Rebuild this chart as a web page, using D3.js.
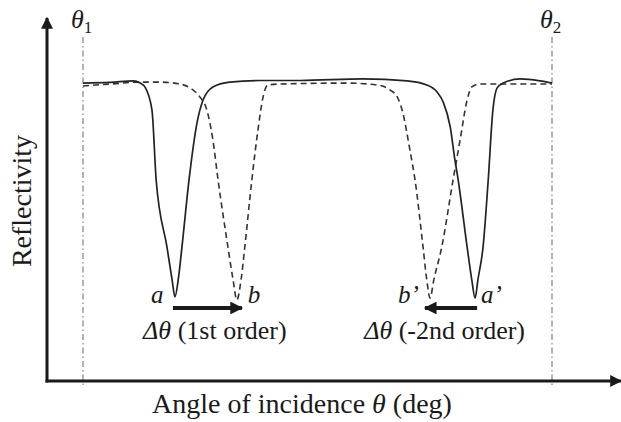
<!DOCTYPE html>
<html>
<head>
<meta charset="utf-8">
<script src="https://cdn.jsdelivr.net/npm/d3@7"></script>
<style>
  body { margin: 0; background: #fff; }
  text { font-family: "Liberation Serif", "DejaVu Serif", serif; fill: #1a1a1a; }
</style>
</head>
<body>
<script>
// angle is in arbitrary units between theta1 (0) and theta2 (100)
const solidAngle = [0, 5.8, 10.7, 12.2, 13.2, 14.7, 15.6, 17.9, 19.0, 19.6, 20.3, 21.1, 22.6, 24.3, 25.6, 27.7, 31.3, 37.7, 46.3, 59.7, 69.1, 73.3, 75.5, 76.8, 78.3, 79.3, 80.0, 81.9, 82.9, 83.6, 84.2, 85.3, 86.4, 87.4, 88.3, 89.6, 93.2, 97.4, 100]
const solidR = [.931, .933, .938, .931, .919, .847, .628, .419, .316, .263, .316, .419, .628, .806, .878, .919, .934, .939, .939, .944, .938, .925, .903, .872, .794, .691, .628, .419, .316, .259, .316, .419, .628, .847, .916, .931, .944, .938, .931]
const dashAngle = [0, 5.8, 12.2, 16.4, 20.7, 23.5, 24.9, 26.4, 27.7, 28.8, 30.9, 32.0, 32.8, 33.7, 34.5, 36.0, 37.3, 38.4, 39.4, 42.0, 56.3, 62.7, 65.5, 67.0, 68.2, 69.7, 70.8, 72.5, 73.3, 74.0, 74.8, 76.5, 78.9, 80.4, 81.9, 82.9, 84.6, 91.7, 100]
const dashR = [.922, .928, .934, .934, .928, .909, .888, .847, .753, .628, .419, .316, .253, .316, .419, .628, .784, .888, .925, .928, .931, .925, .909, .888, .838, .722, .628, .419, .316, .259, .316, .419, .628, .753, .878, .919, .928, .928, .928]
const thetaBounds = [0, 100]
const thetaNames = ["1", "2"]
const dipNames = ["a", "b", "b\u2019", "a\u2019"]
const dipAngle = [19.6, 32.8, 74.0, 83.6]
const shiftNames = ["(1st order)", "(-2nd order)"]

const w = 621
const h = 422
const svg = d3.select("body").append("svg").attr("width", w).attr("height", h)

const xScale = d3.scaleLinear().domain(thetaBounds).range([83, 552])
const yScale = d3.scaleLinear().domain([0, 1]).range([381, 61])
const axisX0 = 47
const axisY0 = 381

const defs = svg.append("defs")
defs.append("marker").attr("id", "head").attr("viewBox", "0 0 10 10").attr("refX", 9).attr("refY", 5)
  .attr("markerWidth", 4.4).attr("markerHeight", 4).attr("markerUnits", "strokeWidth").attr("orient", "auto")
  .append("path").attr("d", "M0,0 L10,5 L0,10 z").attr("fill", "#1a1a1a")
defs.append("marker").attr("id", "head2").attr("viewBox", "0 0 10 10").attr("refX", 9).attr("refY", 5)
  .attr("markerWidth", 3.8).attr("markerHeight", 3.2).attr("markerUnits", "strokeWidth").attr("orient", "auto")
  .append("path").attr("d", "M0,0 L10,5 L0,10 z").attr("fill", "#1a1a1a")

// theta1 / theta2 dash-dot guides
thetaBounds.forEach((t, i) => {
  svg.append("line").attr("x1", xScale(t)).attr("x2", xScale(t)).attr("y1", 37).attr("y2", axisY0 + 7)
    .attr("stroke", "#8a8a8a").attr("stroke-width", 1.3).attr("stroke-dasharray", "6,3,1.5,3")
  const lab = svg.append("text").attr("x", xScale(t) - 12).attr("y", 28).attr("font-size", 26)
  lab.append("tspan").attr("font-style", "italic").text("\u03b8")
  lab.append("tspan").attr("font-size", 17).attr("dy", 5).text(thetaNames[i])
})

// axes
svg.append("line").attr("x1", axisX0).attr("y1", axisY0 + 1.5).attr("x2", axisX0).attr("y2", 18)
  .attr("stroke", "#1a1a1a").attr("stroke-width", 3).attr("marker-end", "url(#head)")
svg.append("line").attr("x1", axisX0 - 1.5).attr("y1", axisY0).attr("x2", 621).attr("y2", axisY0)
  .attr("stroke", "#1a1a1a").attr("stroke-width", 3).attr("marker-end", "url(#head)")

const line = d3.line().x(d => xScale(d[0])).y(d => yScale(d[1])).curve(d3.curveMonotoneX)

svg.append("path").datum(dashAngle.map((a, i) => [a, dashR[i]])).attr("d", line)
  .attr("fill", "none").attr("stroke", "#333").attr("stroke-width", 1.6).attr("stroke-dasharray", "6,4")
svg.append("path").datum(solidAngle.map((a, i) => [a, solidR[i]])).attr("d", line)
  .attr("fill", "none").attr("stroke", "#222").attr("stroke-width", 1.7)

// dip labels
const dipOff = [-24, 11, -32, 6]
dipNames.forEach((n, i) => {
  svg.append("text").attr("x", xScale(dipAngle[i]) + dipOff[i]).attr("y", 303)
    .attr("font-size", 25).attr("font-style", "italic").text(n)
})

// shift arrows
svg.append("line").attr("x1", xScale(dipAngle[0]) - 2).attr("x2", xScale(dipAngle[1]) + 5).attr("y1", 308).attr("y2", 308)
  .attr("stroke", "#1a1a1a").attr("stroke-width", 4).attr("marker-end", "url(#head2)")
svg.append("line").attr("x1", xScale(dipAngle[3]) + 2).attr("x2", xScale(dipAngle[2]) - 5).attr("y1", 308).attr("y2", 308)
  .attr("stroke", "#1a1a1a").attr("stroke-width", 4).attr("marker-end", "url(#head2)")

const shiftX = [(xScale(dipAngle[0]) + xScale(dipAngle[1])) / 2, (xScale(dipAngle[2]) + xScale(dipAngle[3])) / 2]
shiftNames.forEach((n, i) => {
  const t = svg.append("text").attr("x", shiftX[i] + (i ? -8 : 9)).attr("y", 339).attr("font-size", 26).attr("text-anchor", "middle")
  t.append("tspan").attr("font-style", "italic").text("\u0394\u03b8")
  t.append("tspan").text(" " + n)
})

// axis titles
const xt = svg.append("text").attr("x", 302).attr("y", 413).attr("font-size", 28).attr("text-anchor", "middle")
xt.append("tspan").text("Angle of incidence ")
xt.append("tspan").attr("font-style", "italic").text("\u03b8")
xt.append("tspan").text(" (deg)")

svg.append("text").attr("transform", "translate(31,201) rotate(-90)").attr("font-size", 28)
  .attr("text-anchor", "middle").text("Reflectivity")
</script>
</body>
</html>
